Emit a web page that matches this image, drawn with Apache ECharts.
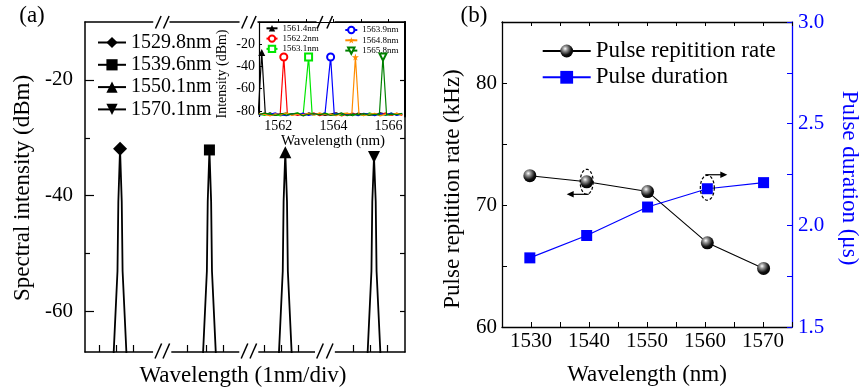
<!DOCTYPE html>
<html><head><meta charset="utf-8">
<script src="https://cdn.jsdelivr.net/npm/echarts@6/dist/echarts.min.js"></script>
<style>html,body{margin:0;padding:0;background:#fff}#c{width:859px;height:392px}</style>
</head><body><div id="c"></div>
<script>
// ---------------- DATA ----------------
// Panel (a): four lasing lines on a broken wavelength axis
const laserNames = ['1529.8nm', '1539.6nm', '1550.1nm', '1570.1nm'];
const spec1529 = [[1529.38, -70], [1529.65, -53], [1529.7, -41], [1529.8, -31.9], [1529.9, -41], [1529.95, -53], [1530.22, -70]];
const spec1539 = [[1539.18, -70], [1539.45, -53], [1539.5, -41], [1539.6, -32.1], [1539.7, -41], [1539.75, -53], [1540.02, -70]];
const spec1550 = [[1549.68, -70], [1549.95, -53], [1550.0, -41], [1550.1, -32.5], [1550.2, -41], [1550.25, -53], [1550.52, -70]];
const spec1570 = [[1569.68, -70], [1569.95, -53], [1570.0, -41], [1570.1, -33.3], [1570.2, -41], [1570.25, -53], [1570.52, -70]];
const segMin = [1527.74, 1537.28, 1548.49, 1567.81];
const segMax = [1531.72, 1541.34, 1551.91, 1571.92];
const segTicks = [[1528.6, 1529.6, 1530.6], [1538.3, 1539.4, 1540.4], [1548.85, 1549.85, 1550.85], [1568.9, 1569.9, 1570.9]];
const aYMin = -67, aYMax = -10;
const aYLabels = [-60, -40, -20];
const aYMinor = [-50, -30];

// Inset
const insetNames = ['1561.4nm', '1562.2nm', '1563.1nm', '1563.9nm', '1564.8nm', '1565.8nm'];
const insetPeakWl = [1561.4, 1562.2, 1563.1, 1563.9, 1564.8, 1565.8];
const insetPeakDbm = [-27.5, -31.5, -31.5, -31.5, -31.5, -31.5];
const insetPeakBase = [-83.4, -83.0, -83.6, -82.8, -83.2, -83.5];
const insetFloorWl = [1561.3, 1561.5, 1561.7, 1561.9, 1562.1, 1562.3, 1562.5, 1562.7, 1562.9, 1563.1, 1563.3, 1563.5, 1563.7, 1563.9, 1564.1, 1564.3, 1564.5, 1564.7, 1564.9, 1565.1, 1565.3, 1565.5, 1565.7, 1565.9, 1566.1, 1566.3, 1566.5];
const floor0 = [-82.1, -83.4, -81.6, -84.0, -82.7, -81.9, -83.6, -82.3, -84.2, -81.8, -83.0, -82.4, -84.1, -82.9, -81.7, -83.5, -82.6, -84.3, -81.9, -83.2, -82.5, -83.9, -81.6, -82.8, -84.0, -82.2, -83.3];
const floor1 = [-83.5, -82.0, -84.3, -82.8, -81.5, -83.7, -82.4, -84.0, -82.9, -83.3, -81.8, -84.2, -82.6, -83.8, -82.1, -84.4, -83.0, -81.9, -83.6, -82.3, -84.1, -82.7, -83.4, -81.8, -83.9, -82.5, -84.0];
const floor2 = [-82.8, -84.1, -82.2, -83.3, -84.4, -82.0, -83.1, -81.7, -83.9, -82.6, -84.3, -82.9, -81.9, -83.5, -82.4, -84.0, -82.1, -83.7, -82.9, -84.2, -81.8, -83.3, -82.6, -84.1, -82.0, -83.6, -82.7];
const floor3 = [-83.9, -82.5, -83.0, -81.8, -83.6, -84.2, -82.7, -83.4, -82.0, -84.1, -82.8, -83.2, -81.6, -84.0, -83.3, -82.2, -83.8, -82.5, -84.3, -82.1, -83.0, -84.2, -82.4, -83.5, -81.9, -84.1, -82.6];
const floor4 = [-82.4, -83.1, -84.2, -82.6, -83.5, -81.8, -84.0, -82.9, -83.2, -82.1, -83.9, -81.7, -83.4, -82.8, -84.3, -82.3, -81.9, -83.6, -82.7, -84.0, -83.1, -82.2, -84.4, -82.9, -83.7, -82.0, -83.8];
const floor5 = [-83.2, -81.9, -82.9, -84.1, -82.3, -83.8, -82.6, -81.9, -84.4, -83.0, -82.5, -83.6, -82.2, -84.1, -83.3, -81.8, -84.2, -82.8, -83.5, -82.4, -84.0, -83.1, -82.7, -84.3, -82.9, -83.4, -82.1];
const insetXTicks = [1562, 1563, 1564, 1565, 1566];
const insetXLabels = [1562, 1564, 1566];
const insetYLabels = [-80, -60, -40, -20];

// Panel (b)
const bWavelength = [1529.8, 1539.6, 1550.1, 1560.4, 1570.1];
const repRate = [72.4, 71.9, 71.1, 66.9, 64.8];      // kHz
const duration = [1.84, 1.95, 2.09, 2.18, 2.21];     // us
const bNames = ['Pulse repitition rate', 'Pulse duration'];

// ---------------- STYLE / LAYOUT ----------------
const FONT = '"Liberation Serif", "Times New Roman", serif';
const K = '#000', BLUE = '#0000ff';
const segLeft = [85, 170, 258, 335], segWidth = [67.7, 69, 58, 70];
const insetColors = ['#000000', '#ff0000', '#00e600', '#0000ff', '#ff8c00', '#008000'];
const STAR = 'path://M50,0 L61,35 L98,35 L68,57 L79,91 L50,70 L21,91 L32,57 L2,35 L39,35 Z';
const insetSymbols = ['triangle', 'emptyCircle', 'emptyRect', 'emptyCircle', STAR, 'emptyTriangle'];
const insetRot = [0, 0, 0, 0, 0, 180];
const floors = [floor0, floor1, floor2, floor3, floor4, floor5];
const plain = v => String(v);

const chart = echarts.init(document.getElementById('c'));

const grids = segLeft.map((l, i) => ({left: l, top: 22, width: segWidth[i], height: 330}));
grids.push({left: 259, top: 22, width: 146, height: 94.5, show: true, backgroundColor: '#fff', borderWidth: 0});
grids.push({left: 502, top: 22, width: 290, height: 305});

const noSplit = {show: false};
const xAxes = [];
for (let i = 0; i < 4; i++) {
  xAxes.push({type: 'value', gridIndex: i, min: segMin[i], max: segMax[i], position: 'bottom',
    axisLine: {show: true, lineStyle: {color: K, width: 1.5}},
    axisTick: {show: true, inside: true, length: 7, customValues: segTicks[i], lineStyle: {color: K, width: 1.2}},
    axisLabel: {show: false}, splitLine: noSplit});
}
for (let i = 0; i < 4; i++) {
  xAxes.push({type: 'value', gridIndex: i, min: segMin[i], max: segMax[i], position: 'top',
    axisLine: {show: true, lineStyle: {color: K, width: 1.5}}, axisTick: {show: false},
    axisLabel: {show: false}, splitLine: noSplit});
}
// inset x (8, 9)
xAxes.push({type: 'value', gridIndex: 4, min: 1561.3, max: 1566.6, position: 'bottom',
  axisLine: {show: true, lineStyle: {color: K, width: 1.2}},
  axisTick: {show: true, inside: true, length: 3, customValues: insetXTicks, lineStyle: {color: K}},
  axisLabel: {customValues: insetXLabels, formatter: plain, fontFamily: FONT, fontSize: 14, color: K, margin: 3},
  splitLine: noSplit});
xAxes.push({type: 'value', gridIndex: 4, min: 1561.3, max: 1566.6, position: 'top',
  axisLine: {show: true, lineStyle: {color: K, width: 1.2}}, axisTick: {show: false},
  axisLabel: {show: false}, splitLine: noSplit});
// panel b x (10, 11)
xAxes.push({type: 'value', gridIndex: 5, min: 1525, max: 1575, interval: 5, position: 'bottom',
  axisLine: {show: true, lineStyle: {color: K, width: 1.3}},
  axisTick: {show: true, inside: true, length: 5, lineStyle: {color: K}},
  axisLabel: {fontFamily: FONT, fontSize: 21, color: K, margin: 4, formatter: v => (v % 10 === 0 ? String(v) : '')},
  splitLine: noSplit});
xAxes.push({type: 'value', gridIndex: 5, min: 1525, max: 1575, interval: 5, position: 'top',
  axisLine: {show: true, lineStyle: {color: K, width: 1.3}},
  axisTick: {show: true, inside: true, length: 4, lineStyle: {color: K}},
  axisLabel: {show: false}, splitLine: noSplit});

const yAxes = [
  {type: 'value', gridIndex: 0, min: aYMin, max: aYMax, position: 'left',
    axisLine: {show: true, lineStyle: {color: K, width: 1.5}},
    axisTick: {show: true, inside: true, length: 9, customValues: aYLabels, lineStyle: {color: K, width: 1.2}},
    axisLabel: {customValues: aYLabels, formatter: plain, fontFamily: FONT, fontSize: 21, color: K, margin: 12},
    splitLine: noSplit},
  {type: 'value', gridIndex: 0, min: aYMin, max: aYMax, position: 'left', offset: 0,
    axisLine: {show: false},
    axisTick: {show: true, inside: true, length: 5, customValues: aYMinor, lineStyle: {color: K, width: 1.2}},
    axisLabel: {show: false}, splitLine: noSplit},
  {type: 'value', gridIndex: 1, min: aYMin, max: aYMax, show: false},
  {type: 'value', gridIndex: 2, min: aYMin, max: aYMax, show: false},
  {type: 'value', gridIndex: 3, min: aYMin, max: aYMax, position: 'right',
    axisLine: {show: true, lineStyle: {color: K, width: 1.5}},
    axisTick: {show: true, inside: true, length: 5, customValues: [-60, -50, -40, -30, -20], lineStyle: {color: K, width: 1.2}},
    axisLabel: {show: false}, splitLine: noSplit},
  {type: 'value', gridIndex: 4, min: -85, max: 0, position: 'left',
    axisLine: {show: true, lineStyle: {color: K, width: 1.2}},
    axisTick: {show: true, inside: true, length: 3, customValues: insetYLabels, lineStyle: {color: K}},
    axisLabel: {customValues: insetYLabels, formatter: plain, fontFamily: FONT, fontSize: 14, color: K, margin: 4},
    splitLine: noSplit},
  {type: 'value', gridIndex: 4, min: -85, max: 0, position: 'right',
    axisLine: {show: true, lineStyle: {color: K, width: 2}}, axisTick: {show: false},
    axisLabel: {show: false}, splitLine: noSplit},
  {type: 'value', gridIndex: 5, min: 60, max: 85, interval: 5, position: 'left',
    axisLine: {show: true, lineStyle: {color: K, width: 1.3}},
    axisTick: {show: true, inside: true, length: 5, lineStyle: {color: K}},
    axisLabel: {fontFamily: FONT, fontSize: 21, color: K, margin: 5, formatter: v => (v % 10 === 0 && v < 85 ? String(v) : '')},
    splitLine: noSplit},
  {type: 'value', gridIndex: 5, min: 1.5, max: 3.0, interval: 0.25, position: 'right',
    axisLine: {show: true, lineStyle: {color: BLUE, width: 1.3}},
    axisTick: {show: true, inside: true, length: 5, lineStyle: {color: BLUE}},
    axisLabel: {fontFamily: FONT, fontSize: 21, color: BLUE, margin: 6,
      formatter: v => (Math.abs(v * 2 - Math.round(v * 2)) < 1e-6 ? v.toFixed(1) : '')},
    splitLine: noSplit}
];

const series = [];
const specs = [spec1529, spec1539, spec1550, spec1570];
const aSymbols = ['diamond', 'rect', 'triangle', 'triangle'];
const aSizes = [14, 11, 12, 12];
const aRot = [0, 0, 0, 180];
const aYIdx = [0, 2, 3, 4];
specs.forEach((s, i) => {
  const top = Math.max(...s.map(p => p[1]));
  series.push({type: 'line', name: laserNames[i], xAxisIndex: i, yAxisIndex: aYIdx[i],
    symbol: aSymbols[i], symbolSize: aSizes[i], symbolRotate: aRot[i], showAllSymbol: true,
    itemStyle: {color: K}, lineStyle: {color: K, width: 1.8},
    data: s.map(p => (p[1] === top ? {value: p} : {value: p, symbol: 'none'})),
    z: 3});
});
insetPeakWl.forEach((w, i) => {
  const pts = insetFloorWl.map((x, k) => ({value: [x, floors[i][k]], symbol: 'none'}))
    .filter(d => Math.abs(d.value[0] - w) > 0.16);
  pts.push({value: [w - 0.13, insetPeakBase[i]], symbol: 'none'});
  pts.push({value: [w, insetPeakDbm[i]]});
  pts.push({value: [w + 0.13, insetPeakBase[i]], symbol: 'none'});
  pts.sort((a, b) => a.value[0] - b.value[0]);
  series.push({type: 'line', name: insetNames[i], xAxisIndex: 8, yAxisIndex: 5,
    symbol: insetSymbols[i], symbolSize: 7, symbolRotate: insetRot[i], showAllSymbol: true,
    itemStyle: {color: insetColors[i], borderWidth: 1.2}, lineStyle: {color: insetColors[i], width: 1.2},
    data: pts, z: 4});
});
const sphere = {type: 'radial', x: 0.38, y: 0.32, r: 0.7,
  colorStops: [{offset: 0, color: '#ffffff'}, {offset: 0.25, color: '#9a9a9a'}, {offset: 0.7, color: '#111'}, {offset: 1, color: '#000'}]};
series.push({type: 'line', name: bNames[0], xAxisIndex: 10, yAxisIndex: 7,
  symbol: 'circle', symbolSize: 13, itemStyle: {color: sphere}, lineStyle: {color: K, width: 1.1},
  data: bWavelength.map((w, i) => [w, repRate[i]]), z: 5});
series.push({type: 'line', name: bNames[1], xAxisIndex: 10, yAxisIndex: 8,
  symbol: 'rect', symbolSize: 11, itemStyle: {color: BLUE}, lineStyle: {color: BLUE, width: 1.2},
  data: bWavelength.map((w, i) => [w, duration[i]]), z: 5});

const legTxt = (fs, lh) => ({fontFamily: FONT, fontSize: fs, lineHeight: lh, color: K});
const legends = [
  {data: laserNames, orient: 'vertical', left: 97, top: 31.5, padding: 0, itemGap: 0.3, itemWidth: 28, itemHeight: 14, textStyle: legTxt(20, 22)},
  {data: insetNames.slice(0, 3), orient: 'vertical', left: 265.5, top: 23.3, padding: 0, itemGap: 0.3, itemWidth: 11, itemHeight: 8, textStyle: legTxt(9, 10)},
  {data: insetNames.slice(3), orient: 'vertical', left: 344.3, top: 25, padding: 0, itemGap: 0.3, itemWidth: 12, itemHeight: 8, textStyle: legTxt(9, 10)},
  {data: bNames, orient: 'vertical', left: 541.7, top: 38, padding: 0, itemGap: 0.3, itemWidth: 48, itemHeight: 16, textStyle: legTxt(23, 26)}
];

function text(str, x, y, fs, rot, color) {
  return {type: 'text', x: x, y: y, rotation: rot || 0, z: 10,
    style: {text: str, fontFamily: FONT, fontSize: fs, fill: color || K,
      align: 'center', verticalAlign: 'middle', textAlign: 'center', textVerticalAlign: 'middle'}};
}
const graphics = [
  text('(a)', 32, 16, 23),
  text('(b)', 474, 16, 23),
  text('Spectral intensity (dBm)', 22.5, 188, 23, Math.PI / 2),
  text('Wavelength (1nm/div)', 243, 376, 23),
  text('Intensity (dBm)', 222, 74, 14, Math.PI / 2),
  text('Wavelength (nm)', 333, 141, 15),
  text('Wavelength (nm)', 647, 375, 23),
  text('Pulse repitition rate (kHz)', 453, 189, 23, Math.PI / 2),
  text('Pulse duration (\u03bcs)', 849, 178, 23, -Math.PI / 2, BLUE)
];
const breakX = [[158.3, 166.3], [244.5, 253.3], [320, 329.7]];
breakX.forEach(pair => pair.forEach(cx => {
  graphics.push({type: 'rect', shape: {x: cx - 5, y: 345, width: 10, height: 12}, style: {fill: '#fff'}, z: 9});
  graphics.push({type: 'line', shape: {x1: cx - 3.3, y1: 358.5, x2: cx + 3.3, y2: 343.5}, style: {stroke: K, lineWidth: 1.5}, z: 10});
  graphics.push({type: 'line', shape: {x1: cx - 2.8, y1: 28.5, x2: cx + 2.8, y2: 16}, style: {stroke: K, lineWidth: 1.5}, z: 10});
}));

chart.setOption({
  animation: false,
  backgroundColor: '#fff',
  textStyle: {fontFamily: FONT},
  grid: grids, xAxis: xAxes, yAxis: yAxes, series: series, legend: legends,
  graphic: graphics
});

const repIdx = series.length - 2, durIdx = series.length - 1;
const p1 = chart.convertToPixel({seriesIndex: repIdx}, [bWavelength[1], repRate[1]]);
const p2 = chart.convertToPixel({seriesIndex: durIdx}, [bWavelength[3], duration[3]]);
function ellipse(cx, cy, rx, ry) {
  const pts = [];
  for (let k = 0; k < 48; k++) { const t = k / 48 * Math.PI * 2; pts.push([cx + rx * Math.cos(t), cy + ry * Math.sin(t)]); }
  return {type: 'polygon', shape: {points: pts}, style: {fill: 'none', stroke: K, lineWidth: 1.2, lineDash: [3, 2]}, z: 11};
}
const ann = [];
ann.push(ellipse(p1[0], p1[1], 6.5, 12.5));
const ay1 = p1[1] + 12.5;
ann.push({type: 'line', shape: {x1: p1[0] + 2, y1: ay1, x2: p1[0] - 14, y2: ay1}, style: {stroke: K, lineWidth: 1.2}, z: 11});
ann.push({type: 'polygon', shape: {points: [[p1[0] - 20, ay1], [p1[0] - 13, ay1 - 3.2], [p1[0] - 13, ay1 + 3.2]]}, style: {fill: K}, z: 11});
ann.push(ellipse(p2[0], p2[1] - 1, 7, 12.5));
const ay2 = p2[1] - 14;
ann.push({type: 'line', shape: {x1: p2[0] - 2, y1: ay2, x2: p2[0] + 14, y2: ay2}, style: {stroke: K, lineWidth: 1.2}, z: 11});
ann.push({type: 'polygon', shape: {points: [[p2[0] + 20, ay2], [p2[0] + 13, ay2 - 3.2], [p2[0] + 13, ay2 + 3.2]]}, style: {fill: K}, z: 11});
chart.setOption({graphic: graphics.concat(ann)});
</script></body></html>
